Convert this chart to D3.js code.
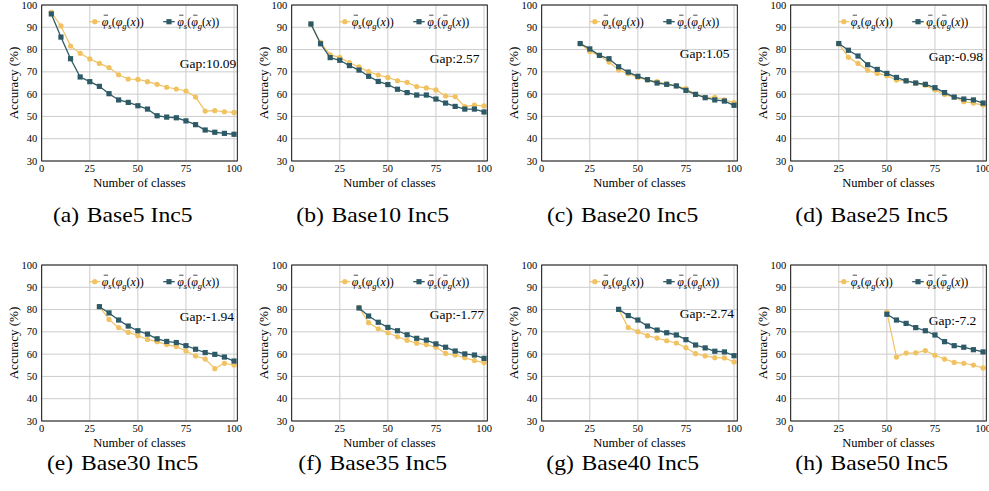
<!DOCTYPE html>
<html>
<head>
<meta charset="utf-8">
<script src="https://cdn.jsdelivr.net/npm/d3@7"></script>
<style>
  body { margin: 0; background: #fff; }
  text { font-family: "Liberation Serif", "Times New Roman", serif; fill: #000; }
</style>
</head>
<body>
<svg id="chart" width="989" height="491"></svg>
<script>
// data
const classSteps = [5, 10, 15, 20, 25, 30, 35, 40, 45, 50, 55, 60, 65, 70, 75, 80, 85, 90, 95, 100];
const bases = [5, 10, 20, 25, 30, 35, 40, 50];
const panelTags = ['(a)', '(b)', '(c)', '(d)', '(e)', '(f)', '(g)', '(h)'];
const panelNames = ['Base5 Inc5', 'Base10 Inc5', 'Base20 Inc5', 'Base25 Inc5',
                    'Base30 Inc5', 'Base35 Inc5', 'Base40 Inc5', 'Base50 Inc5'];
const gaps = ['10.09', '2.57', '1.05', '-0.98', '-1.94', '-1.77', '-2.74', '-7.2'];

// phi_s(phi_g(x))  (yellow, circles)
const accPhiG = [
  [96.7, 90.6, 81.6, 78.3, 75.8, 73.8, 71.9, 68.7, 66.8, 66.6, 65.6, 64.4, 63.1, 62.3, 61.4, 58.7, 52.4, 52.6, 52.1, 51.8],
  [91.3, 83.2, 77.6, 76.5, 74.1, 72.2, 70.1, 68.6, 67.5, 66.0, 65.3, 63.4, 62.8, 61.9, 59.2, 58.9, 54.4, 55.1, 54.7],
  [82.7, 79.1, 77.3, 74.4, 70.8, 69.2, 67.5, 66.3, 65.6, 64.6, 63.7, 62.5, 59.9, 58.6, 58.6, 57.4, 56.2],
  [82.7, 76.5, 73.8, 70.7, 69.3, 68.3, 66.3, 65.9, 64.9, 64.0, 61.9, 59.8, 58.6, 56.6, 56.0, 55.1],
  [81.3, 75.6, 71.9, 69.8, 68.3, 66.6, 65.6, 64.3, 63.4, 61.4, 59.2, 57.8, 53.5, 55.9, 55.1],
  [81.0, 74.1, 71.4, 69.6, 67.8, 66.2, 64.9, 64.3, 63.1, 60.3, 59.6, 58.4, 57.1, 56.2],
  [80.1, 71.9, 70.1, 68.3, 67.2, 66.0, 65.0, 62.9, 60.2, 59.2, 58.4, 58.3, 56.5],
  [78.9, 58.7, 60.5, 60.6, 61.6, 59.5, 57.8, 56.3, 55.9, 55.1, 53.8]
];
// phi_s(phi_g_bar(x))  (dark teal, squares)
const accPhiGBar = [
  [96.0, 85.6, 75.9, 67.7, 65.6, 63.5, 60.2, 57.4, 56.3, 54.8, 53.3, 50.3, 49.7, 49.4, 48.0, 46.3, 43.9, 42.9, 42.4, 42.0],
  [91.5, 82.6, 76.4, 75.2, 72.8, 70.8, 68.0, 65.7, 64.3, 62.2, 60.7, 59.6, 59.6, 57.8, 56.0, 54.5, 53.3, 53.3, 52.0],
  [82.7, 80.3, 77.4, 75.9, 72.3, 69.9, 68.0, 66.5, 65.0, 64.4, 63.7, 61.7, 59.9, 58.4, 57.4, 56.9, 55.0],
  [82.7, 79.7, 77.1, 73.2, 71.1, 69.3, 67.5, 66.0, 65.0, 64.4, 62.9, 60.7, 58.7, 57.8, 57.4, 56.0],
  [81.3, 78.5, 75.3, 72.6, 70.5, 69.0, 66.9, 65.7, 65.2, 63.8, 62.2, 60.7, 59.9, 58.7, 56.9],
  [80.7, 77.1, 74.3, 72.0, 70.5, 68.7, 67.1, 66.3, 64.6, 63.1, 61.4, 60.1, 59.6, 58.1],
  [80.1, 77.3, 75.3, 72.6, 70.8, 69.6, 68.6, 66.5, 64.1, 62.8, 61.3, 61.0, 59.3],
  [77.9, 75.3, 73.8, 71.9, 70.5, 68.6, 65.6, 63.8, 63.1, 62.0, 61.0]
];
const xTicks = [0, 25, 50, 75, 100];
const yTicks = [30, 40, 50, 60, 70, 80, 90, 100];

// layout
const colLeft = [41.7, 291.7, 541.7, 790.7];
const rowTop = [5, 265];
const axW = 195.6, axH = 156;
const gapLabelY = [73.8, 76.1, 78.3, 76.8, 76.8, 77.6, 78.3, 75.3];
const yellow = '#f1c262', teal = '#2d5a66';

const svg = d3.select('#chart');
const x = d3.scaleLinear().domain([0, 101.7]).range([0, axW]);
const y = d3.scaleLinear().domain([30, 100]).range([axH, 0]);

function label(g, tx, ty, str, size, anchor, sx) {
  return g.append('g').attr('transform', `translate(${tx},${ty})`)
    .append('text')
      .attr('transform', `scale(${sx || 1},1)`)
      .attr('text-anchor', anchor)
      .style('font-size', size + 'px')
      .text(str);
}

// legend text like \bar{\phi}_s(\phi_g(x)); the bars are drawn as short lines
function legendLabel(g, tx, ty, barred) {
  let t = g.append('text')
    .attr('x', tx).attr('y', ty)
    .attr('dy', '0.35em')
    .style('font-size', '12px');
  let parts = [
    {s: 'φ', it: true}, {s: 's', sub: true}, {s: '('},
    {s: 'φ', it: true}, {s: 'g', sub: true}, {s: '('},
    {s: 'x', it: true}, {s: '))'}
  ];
  let shifted = false;
  parts.forEach(p => {
    let ts = t.append('tspan').text(p.s);
    if (p.it) ts.style('font-style', 'italic');
    if (p.sub) {
      ts.style('font-size', '8.5px').style('font-style', 'italic').attr('dy', 2.8);
      shifted = true;
    } else if (shifted) {
      ts.attr('dy', -2.8);
      shifted = false;
    }
  });
  let barAt = barred ? [0, 3] : [0];
  barAt.forEach(k => {
    let e = t.node().getExtentOfChar(k);
    g.append('line')
      .attr('x1', e.x + e.width * 0.3).attr('x2', e.x + e.width * 0.95)
      .attr('y1', ty - 6.5).attr('y2', ty - 6.5)
      .attr('stroke', '#000').attr('stroke-width', 0.7);
  });
}

function square(g, cx, cy, s) {
  g.append('rect')
    .attr('x', cx - s / 2).attr('y', cy - s / 2)
    .attr('width', s).attr('height', s)
    .attr('fill', teal);
}

bases.forEach((base, i) => {
  let left = colLeft[i % 4], top = rowTop[Math.floor(i / 4)];
  let g = svg.append('g').attr('transform', `translate(${left},${top})`);
  let classes = classSteps.filter(c => c >= base);

  // grid
  g.selectAll('.gx').data(xTicks).enter().append('line')
    .attr('x1', d => x(d)).attr('x2', d => x(d))
    .attr('y1', 0).attr('y2', axH)
    .attr('stroke', '#cccccc').attr('stroke-width', 1);
  g.selectAll('.gy').data(yTicks).enter().append('line')
    .attr('x1', 0).attr('x2', axW)
    .attr('y1', d => y(d)).attr('y2', d => y(d))
    .attr('stroke', '#cccccc').attr('stroke-width', 1);

  // tick labels
  xTicks.forEach(t => label(g, x(t), axH + 11, t, 10.5, 'middle'));
  yTicks.forEach(t => label(g, -4.5, y(t) + 3.5, t, 10.5, 'end'));

  // axis titles
  label(g, axW / 2, axH + 25.5, 'Number of classes', 12.5, 'middle');
  g.append('text')
    .attr('transform', `translate(-28.7,${axH / 2}) rotate(-90)`)
    .attr('text-anchor', 'middle')
    .attr('dy', '0.35em')
    .style('font-size', '13px')
    .text('Accuracy (%)');

  // lines
  let line = d3.line().x(d => x(d[0])).y(d => y(d[1]));
  let ySeries = classes.map((c, j) => [c, accPhiG[i][j]]);
  let tSeries = classes.map((c, j) => [c, accPhiGBar[i][j]]);

  g.append('path').datum(ySeries)
    .attr('d', line).attr('fill', 'none')
    .attr('stroke', yellow).attr('stroke-width', 1.2);
  g.selectAll('.cy').data(ySeries).enter().append('circle')
    .attr('cx', d => x(d[0])).attr('cy', d => y(d[1]))
    .attr('r', 2.6).attr('fill', yellow);

  g.append('path').datum(tSeries)
    .attr('d', line).attr('fill', 'none')
    .attr('stroke', teal).attr('stroke-width', 1.3);
  tSeries.forEach(d => square(g, x(d[0]), y(d[1]), 5.2));

  // frame
  g.append('rect')
    .attr('width', axW).attr('height', axH)
    .attr('fill', 'none').attr('stroke', '#000').attr('stroke-width', 0.9);

  // legend
  let ly = 16.7;
  g.append('line').attr('x1', 47.6).attr('x2', 58.6).attr('y1', ly).attr('y2', ly)
    .attr('stroke', yellow).attr('stroke-width', 1.2);
  g.append('circle').attr('cx', 53.1).attr('cy', ly).attr('r', 2.6).attr('fill', yellow);
  legendLabel(g, 60, ly, false);
  g.append('line').attr('x1', 121.5).attr('x2', 133).attr('y1', ly).attr('y2', ly)
    .attr('stroke', teal).attr('stroke-width', 1.3);
  square(g, 127.3, ly, 5.2);
  legendLabel(g, 135.5, ly, true);

  // gap annotation
  label(g, 138, y(gapLabelY[i]) + 4.5, 'Gap:' + gaps[i], 13.5, 'start');

  // caption
  let cap = g.append('g').attr('transform', `translate(81,${top === 5 ? 217 : 204.5})`)
    .append('text')
      .attr('transform', 'scale(1.1,1)')
      .attr('text-anchor', 'middle')
      .style('font-size', '21.5px');
  cap.append('tspan').text(panelTags[i]);
  cap.append('tspan').attr('dx', 7).text(panelNames[i]);
});
</script>
</body>
</html>
